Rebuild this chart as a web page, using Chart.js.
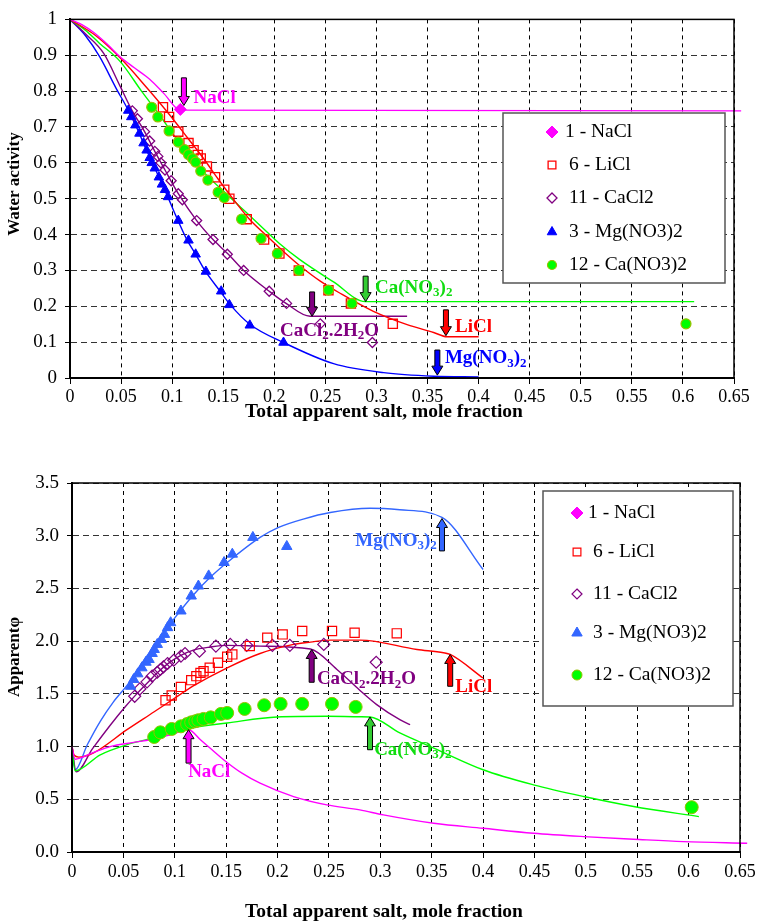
<!DOCTYPE html>
<html>
<head>
<meta charset="utf-8">
<script src="https://cdn.jsdelivr.net/npm/chart.js@4.4.1/dist/chart.umd.min.js"></script>
<style>
  body { margin: 0; background: #fff; }
  #wrapTop { position: absolute; left: 0; top: 0; width: 759px; height: 428px; }
  #wrapBot { position: absolute; left: 0; top: 428px; width: 759px; height: 496px; }
</style>
</head>
<body>
<div id="wrapTop"><canvas id="chartTop"></canvas></div>
<div id="wrapBot"><canvas id="chartBot"></canvas></div>
<script>
// ---- measured points (same compositions in both panels) ----
const saltNames = ['1 - NaCl', '6 - LiCl', '11 - CaCl2', '3 - Mg(NO3)2', '12 - Ca(NO3)2'];

const naclX = [0.108];
const naclAw = [0.749];

const liclX = [0.091, 0.097, 0.106, 0.116, 0.121, 0.125, 0.128, 0.134, 0.142, 0.151, 0.156, 0.173, 0.190, 0.205, 0.224, 0.253, 0.275, 0.316];
const liclAw = [0.755, 0.728, 0.687, 0.655, 0.635, 0.622, 0.612, 0.590, 0.560, 0.525, 0.500, 0.443, 0.386, 0.347, 0.300, 0.245, 0.208, 0.151];
const liclPhi = [1.44, 1.484, 1.566, 1.63, 1.668, 1.699, 1.715, 1.747, 1.795, 1.852, 1.874, 1.953, 2.033, 2.064, 2.096, 2.096, 2.08, 2.074];

const cacl2X = [0.061, 0.066, 0.073, 0.078, 0.083, 0.086, 0.089, 0.093, 0.099, 0.106, 0.110, 0.124, 0.140, 0.154, 0.170, 0.195, 0.212, 0.245, 0.296];
const cacl2Aw = [0.745, 0.723, 0.687, 0.661, 0.632, 0.618, 0.600, 0.580, 0.550, 0.514, 0.497, 0.439, 0.386, 0.345, 0.300, 0.242, 0.208, 0.151, 0.099];
const cacl2Phi = [1.477, 1.547, 1.614, 1.668, 1.705, 1.731, 1.756, 1.788, 1.819, 1.858, 1.883, 1.905, 1.953, 1.969, 1.96, 1.96, 1.96, 1.969, 1.80];

const mgX = [0.057, 0.060, 0.064, 0.068, 0.072, 0.075, 0.078, 0.080, 0.083, 0.087, 0.090, 0.093, 0.096, 0.106, 0.116, 0.123, 0.133, 0.148, 0.156, 0.176, 0.209];
const mgAw = [0.746, 0.728, 0.705, 0.682, 0.655, 0.635, 0.614, 0.600, 0.585, 0.560, 0.540, 0.525, 0.505, 0.439, 0.384, 0.345, 0.297, 0.242, 0.204, 0.147, 0.099];
const mgPhi = [1.572, 1.636, 1.69, 1.747, 1.80, 1.826, 1.883, 1.921, 1.969, 2.016, 2.064, 2.128, 2.175, 2.286, 2.428, 2.523, 2.619, 2.746, 2.825, 2.984, 2.898];

const canX = [0.080, 0.086, 0.097, 0.106, 0.112, 0.116, 0.120, 0.123, 0.128, 0.135, 0.145, 0.151, 0.168, 0.187, 0.203, 0.224, 0.253, 0.276, 0.603];
const canAw = [0.755, 0.728, 0.689, 0.658, 0.637, 0.623, 0.612, 0.602, 0.577, 0.552, 0.518, 0.503, 0.443, 0.389, 0.347, 0.300, 0.245, 0.208, 0.151];
const canPhi = [1.091, 1.135, 1.167, 1.192, 1.214, 1.23, 1.24, 1.25, 1.262, 1.277, 1.31, 1.319, 1.357, 1.392, 1.405, 1.405, 1.405, 1.376, 0.425];

// ---- model curves, water activity panel ----
const naclAwFitX = [0, 0.012, 0.023, 0.036, 0.049, 0.063, 0.078, 0.092, 0.108, 0.657];
const naclAwFitY = [1, 0.985, 0.964, 0.932, 0.896, 0.865, 0.833, 0.793, 0.747, 0.745];
const liclAwFitX = [0, 0.025, 0.05, 0.075, 0.09, 0.1, 0.115, 0.13, 0.145, 0.16, 0.175, 0.193, 0.21, 0.225, 0.245, 0.264, 0.297, 0.33, 0.356, 0.369, 0.40];
const liclAwFitY = [1, 0.955, 0.89, 0.81, 0.76, 0.725, 0.67, 0.615, 0.555, 0.498, 0.445, 0.395, 0.35, 0.313, 0.27, 0.237, 0.186, 0.149, 0.127, 0.115, 0.115];
const canAwFitX = [0, 0.015, 0.029, 0.049, 0.07, 0.088, 0.104, 0.127, 0.16, 0.175, 0.19, 0.205, 0.225, 0.258, 0.289, 0.611];
const canAwFitY = [1, 0.97, 0.933, 0.883, 0.80, 0.732, 0.668, 0.586, 0.495, 0.455, 0.415, 0.375, 0.33, 0.268, 0.213, 0.213];
const cacl2AwFitX = [0, 0.015, 0.033, 0.049, 0.06, 0.073, 0.083, 0.093, 0.106, 0.124, 0.14, 0.155, 0.17, 0.195, 0.2115, 0.235, 0.33];
const cacl2AwFitY = [1, 0.96, 0.905, 0.814, 0.75, 0.687, 0.632, 0.58, 0.514, 0.439, 0.386, 0.345, 0.30, 0.242, 0.208, 0.172, 0.172];
const mgAwFitX = [0, 0.015, 0.029, 0.0457, 0.0555, 0.065, 0.075, 0.085, 0.095, 0.104, 0.114, 0.123, 0.132, 0.147, 0.157, 0.176, 0.209, 0.258, 0.307, 0.356, 0.40];
const mgAwFitY = [1, 0.955, 0.896, 0.805, 0.755, 0.70, 0.635, 0.573, 0.51, 0.45, 0.388, 0.345, 0.30, 0.242, 0.204, 0.15, 0.099, 0.04, 0.015, 0.005, 0.003];

// ---- model curves, apparent phi panel ----
const naclPhiFitX = [0, 0.003, 0.02, 0.037, 0.06, 0.076, 0.095, 0.1134, 0.125, 0.1475, 0.165, 0.183, 0.2156, 0.248, 0.28, 0.303, 0.352, 0.40, 0.449, 0.498, 0.5465, 0.595, 0.657];
const naclPhiFitY = [1.0, 0.88, 0.94, 1.0, 1.04, 1.065, 1.11, 1.16, 1.065, 0.875, 0.75, 0.653, 0.526, 0.447, 0.40, 0.352, 0.273, 0.225, 0.178, 0.146, 0.121, 0.098, 0.083];
const liclPhiFitX = [0, 0.002, 0.0065, 0.021, 0.0535, 0.08, 0.1, 0.118, 0.151, 0.183, 0.2156, 0.232, 0.2513, 0.2805, 0.3357, 0.3615, 0.368, 0.40];
const liclPhiFitY = [1.0, 0.92, 0.90, 0.94, 1.16, 1.33, 1.46, 1.575, 1.747, 1.883, 1.969, 1.991, 2.01, 2.01, 1.921, 1.89, 1.874, 1.65];
const cacl2PhiFitX = [0, 0.004, 0.02, 0.037, 0.052, 0.063, 0.073, 0.083, 0.0924, 0.105, 0.118, 0.135, 0.1508, 0.183, 0.232, 0.2578, 0.2805, 0.2965, 0.319, 0.329];
const cacl2PhiFitY = [1.0, 0.76, 0.98, 1.2, 1.38, 1.5, 1.6, 1.7, 1.78, 1.86, 1.915, 1.945, 1.96, 1.953, 1.925, 1.731, 1.53, 1.398, 1.255, 1.208];
const mgPhiFitX = [0, 0.003, 0.015, 0.0275, 0.04, 0.055, 0.07, 0.0859, 0.1, 0.1183, 0.135, 0.151, 0.183, 0.201, 0.225, 0.2513, 0.29, 0.319, 0.36, 0.40];
const mgPhiFitY = [1.0, 0.78, 1.02, 1.24, 1.42, 1.6, 1.82, 2.03, 2.22, 2.44, 2.61, 2.746, 2.984, 3.079, 3.158, 3.22, 3.26, 3.246, 3.174, 2.68];
const canPhiFitX = [0, 0.003, 0.0275, 0.0535, 0.079, 0.115, 0.151, 0.1995, 0.248, 0.2805, 0.29, 0.319, 0.352, 0.40, 0.449, 0.498, 0.5465, 0.61];
const canPhiFitY = [1.0, 0.77, 0.922, 1.018, 1.081, 1.176, 1.224, 1.281, 1.287, 1.283, 1.281, 1.129, 0.986, 0.78, 0.637, 0.526, 0.431, 0.336];

const SERIF = '"Liberation Serif", "Times New Roman", serif';

function pts(xs, ys) {
  return xs.map((x, i) => ({ x: x, y: ys[i] }));
}

function fitSet(xs, ys, color) {
  return {
    data: pts(xs, ys), showLine: true, borderColor: color, borderWidth: 1.4,
    pointRadius: 0, pointHoverRadius: 0, cubicInterpolationMode: 'monotone',
    order: 10, clip: 12
  };
}

function markSet(xs, ys, st) {
  return {
    data: pts(xs, ys), showLine: false, pointStyle: st.style, pointRadius: st.r,
    pointBackgroundColor: st.fill, pointBorderColor: st.stroke, pointBorderWidth: st.lw,
    order: st.order
  };
}

// marker styles [NaCl, LiCl, CaCl2, Mg(NO3)2, Ca(NO3)2]
const topMarks = [
  { style: 'rectRot', r: 6, fill: '#ff00ff', stroke: '#ff00ff', lw: 1, order: 2 },
  { style: 'rect', r: 6.5, fill: 'rgba(0,0,0,0)', stroke: '#ff0000', lw: 1.3, order: 4 },
  { style: 'rectRot', r: 5, fill: 'rgba(0,0,0,0)', stroke: '#800080', lw: 1.3, order: 5 },
  { style: 'triangle', r: 5.5, fill: '#0000ff', stroke: '#0000ff', lw: 1, order: 3 },
  { style: 'circle', r: 5, fill: '#00ff00', stroke: '#99c000', lw: 1.2, order: 1 }
];
const botMarks = [
  { style: 'rectRot', r: 6, fill: '#ff00ff', stroke: '#ff00ff', lw: 1, order: 2 },
  { style: 'rect', r: 6.5, fill: 'rgba(0,0,0,0)', stroke: '#ff0000', lw: 1.2, order: 4 },
  { style: 'rectRot', r: 6, fill: 'rgba(0,0,0,0)', stroke: '#800080', lw: 1.2, order: 5 },
  { style: 'triangle', r: 6, fill: '#3366ff', stroke: '#3366ff', lw: 1, order: 3 },
  { style: 'circle', r: 6.5, fill: '#00ff00', stroke: '#99c000', lw: 1, order: 1 }
];

function drawMarker(ctx, m, x, y, r) {
  ctx.save();
  ctx.beginPath();
  if (m.style === 'circle') {
    ctx.arc(x, y, r, 0, Math.PI * 2);
  } else if (m.style === 'rect') {
    const s = r * Math.SQRT1_2;
    ctx.rect(x - s, y - s, 2 * s, 2 * s);
  } else if (m.style === 'rectRot') {
    ctx.moveTo(x, y - r); ctx.lineTo(x + r, y); ctx.lineTo(x, y + r); ctx.lineTo(x - r, y);
    ctx.closePath();
  } else if (m.style === 'triangle') {
    for (let k = 0; k < 3; k++) {
      const a = k * 2 * Math.PI / 3;
      const px = x + Math.sin(a) * r, py = y - Math.cos(a) * r;
      if (k === 0) ctx.moveTo(px, py); else ctx.lineTo(px, py);
    }
    ctx.closePath();
  }
  ctx.fillStyle = m.fill;
  ctx.fill();
  ctx.lineWidth = m.lw;
  ctx.strokeStyle = m.stroke;
  ctx.stroke();
  ctx.restore();
}

// text pieces: [string, isSubscript]
function drawRich(ctx, parts, x, y, color) {
  ctx.save();
  ctx.fillStyle = color;
  ctx.textBaseline = 'middle';
  ctx.textAlign = 'left';
  let cx = x;
  parts.forEach(p => {
    ctx.font = p[1] ? 'bold 13px ' + SERIF : 'bold 19px ' + SERIF;
    ctx.fillText(p[0], cx, p[1] ? y + 5 : y);
    cx += ctx.measureText(p[0]).width;
  });
  ctx.restore();
}

function drawArrow(ctx, x, yTail, yTip, fill) {
  const dir = yTip > yTail ? 1 : -1;
  const sw = 2.5, hw = 5.5, hl = 9;
  const yBase = yTip - dir * hl;
  ctx.save();
  ctx.beginPath();
  ctx.moveTo(x - sw, yTail);
  ctx.lineTo(x + sw, yTail);
  ctx.lineTo(x + sw, yBase);
  ctx.lineTo(x + hw, yBase);
  ctx.lineTo(x, yTip);
  ctx.lineTo(x - hw, yBase);
  ctx.lineTo(x - sw, yBase);
  ctx.closePath();
  ctx.fillStyle = fill;
  ctx.fill();
  ctx.lineWidth = 1;
  ctx.strokeStyle = '#000';
  ctx.stroke();
  ctx.restore();
}

const notesPlugin = {
  id: 'notes',
  afterDatasetsDraw(chart, args, opts) {
    const ctx = chart.ctx, xs = chart.scales.x, ys = chart.scales.y;
    (opts.items || []).forEach(n => {
      const px = xs.getPixelForValue(n.x);
      drawArrow(ctx, px, ys.getPixelForValue(n.tail), ys.getPixelForValue(n.tip), n.fill);
      drawRich(ctx, n.text, xs.getPixelForValue(n.lx), ys.getPixelForValue(n.ly), n.color);
    });
  }
};

// frame round the plot area plus the two axis titles
const framePlugin = {
  id: 'frame',
  afterDraw(chart, args, o) {
    const a = chart.chartArea, ctx = chart.ctx;
    ctx.save();
    ctx.strokeStyle = '#000';
    ctx.lineWidth = 1.5;
    ctx.strokeRect(a.left, a.top, a.right - a.left, a.bottom - a.top);
    ctx.fillStyle = '#000';
    ctx.textAlign = 'center';
    ctx.textBaseline = 'middle';
    ctx.font = 'bold 19.5px ' + SERIF;
    ctx.fillText(o.xTitle, o.xTitlePos[0], o.xTitlePos[1]);
    ctx.translate(o.yTitlePos[0], o.yTitlePos[1]);
    ctx.rotate(-Math.PI / 2);
    ctx.font = 'bold 17px ' + SERIF;
    ctx.fillText(o.yTitle, 0, 0);
    ctx.restore();
  }
};

const boxLegendPlugin = {
  id: 'boxLegend',
  afterDraw(chart, args, o) {
    if (!o.marks) return;
    const ctx = chart.ctx;
    ctx.save();
    ctx.fillStyle = '#fff';
    ctx.fillRect(o.left, o.top, o.width, o.height);
    ctx.strokeStyle = '#555';
    ctx.lineWidth = 1.5;
    ctx.strokeRect(o.left, o.top, o.width, o.height);
    ctx.font = '19.5px ' + SERIF;
    ctx.fillStyle = '#000';
    ctx.textBaseline = 'middle';
    saltNames.forEach((name, i) => {
      const y = o.rows[i];
      drawMarker(ctx, o.marks[i], o.markX, y, o.sizes[i]);
      ctx.fillText(name, o.textX[i], y);
    });
    ctx.restore();
  }
};

function xAxis(tickPad, height) {
  return {
    type: 'linear', min: 0, max: 0.65,
    afterFit: s => { s.height = height; },
    ticks: {
      stepSize: 0.05, autoSkip: false, maxRotation: 0, padding: tickPad, color: '#000',
      font: { family: SERIF, size: 18 },
      callback: v => String(+v.toFixed(2))
    },
    grid: { color: '#000', lineWidth: 1, tickLength: 6, tickColor: '#000' },
    border: { display: true, color: '#000', width: 2, dash: [4, 4] },
    title: { display: false }
  };
}

function yAxis(min, max, step, fmt, width) {
  return {
    type: 'linear', min: min, max: max,
    afterFit: s => { s.width = width; },
    ticks: {
      stepSize: step, padding: 8, color: '#000',
      font: { family: SERIF, size: 19 },
      callback: fmt
    },
    grid: { color: '#333', lineWidth: 1, tickLength: 5, tickColor: '#000' },
    border: { display: true, color: '#000', width: 2, dash: [6, 4] },
    title: { display: false }
  };
}

const commonOpts = {
  animation: false,
  responsive: true,
  maintainAspectRatio: false,
  events: []
};

const xTitleText = 'Total apparent salt, mole fraction';

// ---------------- top: water activity ----------------
new Chart(document.getElementById('chartTop'), {
  type: 'scatter',
  data: {
    datasets: [
      fitSet(naclAwFitX, naclAwFitY, '#ff00ff'),
      fitSet(liclAwFitX, liclAwFitY, '#ff0000'),
      fitSet(canAwFitX, canAwFitY, '#00ff00'),
      fitSet(cacl2AwFitX, cacl2AwFitY, '#800080'),
      fitSet(mgAwFitX, mgAwFitY, '#0000ff'),
      markSet(naclX, naclAw, topMarks[0]),
      markSet(liclX, liclAw, topMarks[1]),
      markSet(cacl2X, cacl2Aw, topMarks[2]),
      markSet(mgX, mgAw, topMarks[3]),
      markSet(canX, canAw, topMarks[4])
    ]
  },
  options: Object.assign({}, commonOpts, {
    layout: { padding: { top: 12, right: 25, left: 0, bottom: 0 } },
    scales: {
      x: xAxis(2, 50),
      y: yAxis(0, 1, 0.1, v => String(+v.toFixed(2)), 70)
    },
    plugins: {
      legend: { display: false },
      tooltip: { enabled: false },
      frame: { xTitle: xTitleText, xTitlePos: [384, 412], yTitle: 'Water activity', yTitlePos: [15, 184] },
      boxLegend: {
        left: 503, top: 113, width: 222, height: 170,
        rows: [132, 165, 198, 232, 265], markX: 552,
        textX: [565, 569, 569, 569, 569],
        sizes: [6, 5.5, 5, 5.5, 4.5],
        marks: topMarks
      },
      notes: {
        items: [
          { x: 0.1115, tail: 0.837, tip: 0.76, fill: '#ff00ff', lx: 0.121, ly: 0.781, color: '#ff00ff', text: [['NaCl', 0]] },
          { x: 0.2894, tail: 0.284, tip: 0.213, fill: '#33cc33', lx: 0.2986, ly: 0.251, color: '#11dd11', text: [['Ca(NO', 0], ['3', 1], [')', 0], ['2', 1]] },
          { x: 0.237, tail: 0.24, tip: 0.172, fill: '#800080', lx: 0.2056, ly: 0.131, color: '#800080', text: [['CaCl', 0], ['2', 1], ['.2H', 0], ['2', 1], ['O', 0]] },
          { x: 0.368, tail: 0.19, tip: 0.118, fill: '#ff0000', lx: 0.377, ly: 0.142, color: '#ff0000', text: [['LiCl', 0]] },
          { x: 0.3596, tail: 0.078, tip: 0.008, fill: '#0000ff', lx: 0.367, ly: 0.055, color: '#0000ff', text: [['Mg(NO', 0], ['3', 1], [')', 0], ['2', 1]] }
        ]
      }
    }
  }),
  plugins: [notesPlugin, framePlugin, boxLegendPlugin]
});

// ---------------- bottom: apparent phi ----------------
new Chart(document.getElementById('chartBot'), {
  type: 'scatter',
  data: {
    datasets: [
      fitSet(naclPhiFitX, naclPhiFitY, '#ff00ff'),
      fitSet(liclPhiFitX, liclPhiFitY, '#ff0000'),
      fitSet(canPhiFitX, canPhiFitY, '#00ff00'),
      fitSet(cacl2PhiFitX, cacl2PhiFitY, '#800080'),
      fitSet(mgPhiFitX, mgPhiFitY, '#3366ff'),
      markSet(liclX, liclPhi, botMarks[1]),
      markSet(cacl2X, cacl2Phi, botMarks[2]),
      markSet(mgX, mgPhi, botMarks[3]),
      markSet(canX, canPhi, botMarks[4])
    ]
  },
  options: Object.assign({}, commonOpts, {
    layout: { padding: { top: 55, right: 19, left: 0, bottom: 0 } },
    scales: {
      x: xAxis(3, 72),
      y: yAxis(0, 3.5, 0.5, v => v.toFixed(1), 72)
    },
    plugins: {
      legend: { display: false },
      tooltip: { enabled: false },
      frame: { xTitle: xTitleText, xTitlePos: [384, 484], yTitle: 'Apparent\u03c6', yTitlePos: [15, 229] },
      boxLegend: {
        left: 543, top: 63, width: 190, height: 215,
        rows: [85, 124, 166, 205, 247], markX: 577,
        textX: [588, 593, 593, 593, 593],
        sizes: [6, 5.5, 5, 6, 5],
        marks: botMarks
      },
      notes: {
        items: [
          { x: 0.36, tail: 2.856, tip: 3.163, fill: '#3366ff', lx: 0.2756, ly: 2.951, color: '#3366ff', text: [['Mg(NO', 0], ['3', 1], [')', 0], ['2', 1]] },
          { x: 0.368, tail: 1.572, tip: 1.874, fill: '#ff0000', lx: 0.373, ly: 1.56, color: '#ff0000', text: [['LiCl', 0]] },
          { x: 0.2332, tail: 1.61, tip: 1.921, fill: '#800080', lx: 0.2383, ly: 1.636, color: '#800080', text: [['CaCl', 0], ['2', 1], ['.2H', 0], ['2', 1], ['O', 0]] },
          { x: 0.29, tail: 0.97, tip: 1.281, fill: '#33cc33', lx: 0.294, ly: 0.97, color: '#11dd11', text: [['Ca(NO', 0], ['3', 1], [')', 0], ['2', 1]] },
          { x: 0.1134, tail: 0.843, tip: 1.16, fill: '#ff00ff', lx: 0.113, ly: 0.754, color: '#ff00ff', text: [['NaCl', 0]] }
        ]
      }
    }
  }),
  plugins: [notesPlugin, framePlugin, boxLegendPlugin]
});
</script>
</body>
</html>
